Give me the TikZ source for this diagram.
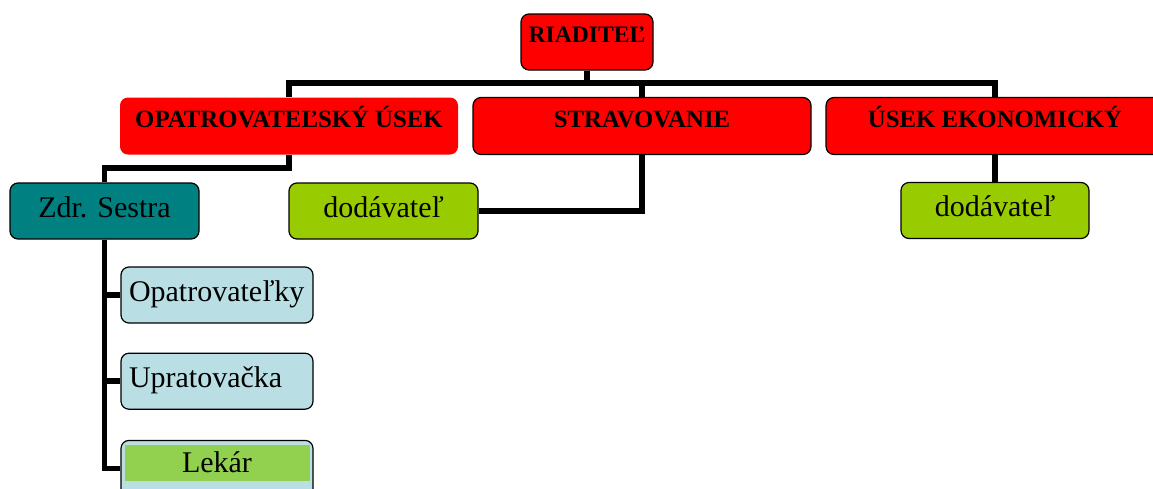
\documentclass[tikz,border=0pt]{standalone}
\usepackage{fontspec}
\setmainfont{Liberation Serif}
\usetikzlibrary{positioning,calc}
\definecolor{headred}{HTML}{FF0000}
\definecolor{supgreen}{HTML}{99CC00}
\definecolor{nurseteal}{HTML}{008080}
\definecolor{staffblue}{HTML}{B9DFE4}
\definecolor{lekgreen}{HTML}{92D050}

\begin{document}
\begin{tikzpicture}[x=1pt, y=-1pt,
  head/.style={fill=headred, draw=black, line width=1.2pt, rounded corners=8pt, inner sep=0pt, minimum width=338pt, text height=30pt, text depth=27pt, font=\fontsize{24.8}{27}\selectfont\bfseries},
  unit/.style={draw=black, line width=1.2pt, rounded corners=8pt, inner sep=0pt, minimum width=189pt, text height=34pt, text depth=22pt, font=\fontsize{30}{32}\selectfont},
  staff/.style={unit, fill=staffblue, inner xsep=8pt, text width=176pt, align=left},
  conn/.style={line width=5.5pt, draw=black},
  node distance=29pt
]
\useasboundingbox (0,0) rectangle (1153,488);
\clip (0,0) rectangle (1153,488);
\node[head, minimum width=132pt, text height=28pt, text depth=28pt, font=\fontsize{23.6}{26}\selectfont\bfseries] (riad) at (587,42) {RIADITEĽ};
\node[head, draw=none] (opat) at (289,126) {OPATROVATEĽSKÝ ÚSEK};
\node[head] (strav) at (642,126) {STRAVOVANIE};
\node[head] (ekon) at (995,126) {ÚSEK EKONOMICKÝ};
\node[unit, fill=nurseteal] (sestra) at (104.5,211) {Zdr. Sestra};
\node[unit, fill=supgreen] (dod1) at (383.5,211) {dodávateľ};
\node[unit, fill=supgreen, minimum width=188pt] (dod2) at (995,210.5) {dodávateľ};
\node[staff] (opk) at (217,295) {Opatrovateľky};
\node[staff, below=of opk] (uprat) {Upratovačka};
\node[staff, below=30pt of uprat, align=center, text height=32pt, text depth=24pt,
  path picture={\fill[lekgreen, sharp corners] ([shift={(4pt,-5pt)}]path picture bounding box.north west) rectangle ([shift={(-3pt,-41pt)}]path picture bounding box.north east);}] (lekar) {Lekár};
\coordinate (bus) at (587,83);
\draw[conn] (riad.south) -- (bus) -| (opat.north);
\draw[conn] (bus) -| (strav.north);
\draw[conn] (bus) -| (ekon.north);
\draw[conn] (opat.south) -- ++(0,13) -| (sestra.north);
\draw[conn] (strav.south) |- (dod1.east);
\draw[conn] (ekon.south) -- (dod2.north);
\draw[conn] (sestra.south) |- (opk.west);
\draw[conn] (sestra.south) |- (uprat.west);
\draw[conn] (sestra.south) |- (lekar.west);
\end{tikzpicture}
\end{document}
